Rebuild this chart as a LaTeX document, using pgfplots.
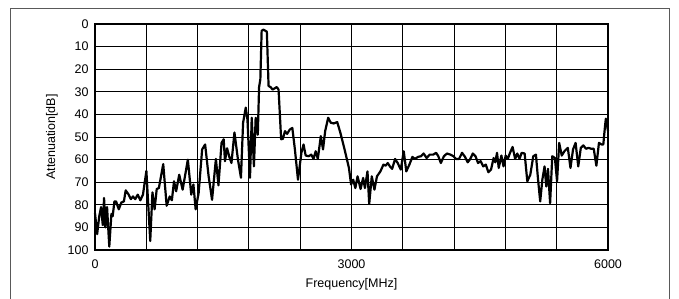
\documentclass[border=0pt]{standalone}
\usepackage{pgfplots}
\pgfplotsset{compat=1.18}
\usepackage{fontspec}
\setmainfont{Liberation Sans}
\begin{document}
\begin{tikzpicture}[x=1pt,y=1pt]
\useasboundingbox (0,0) rectangle (679,298);
\draw[black!65, line width=1pt] (10.5,-1) -- (10.5,289) -- (669,289) -- (669,-1);
\begin{axis}[
  at={(95pt,48pt)}, anchor=south west,
  scale only axis, width=513pt, height=226pt,
  xmin=0, xmax=6000, ymin=0, ymax=100,
  y dir=reverse,
  xtick={0,600,...,6000},
  xticklabels={0,,,,,3000,,,,,6000},
  ytick={0,10,...,100},
  major tick length=0pt,
  grid=major,
  grid style={black, line width=1pt},
  axis line style={black, line width=1.6pt},
  tick label style={font=\fontsize{12.5}{14}\selectfont, /pgf/number format/assume math mode=true},
  scaled x ticks=false,
  xticklabel style={yshift=-6pt},
  yticklabel style={xshift=-3pt},
  label style={font=\fontsize{12.5}{14}\selectfont},
  xlabel={Frequency[MHz]},
  ylabel={Attenuation[dB]},
  xlabel style={at={(axis description cs:0.5,-0.1504)}, anchor=center},
  ylabel style={at={(axis description cs:-0.0838,0.5)}, anchor=center},
  clip=false,
]
\addplot[black, line width=2.2pt, line join=round] coordinates {
(0,83.7) (25,93) (50,85) (71,81) (91,89) (106,77) (121,90) (141,81) (167,98.5)
(192,84) (207,85) (227,78.5) (247,78.5) (278,82) (308,79) (338,78.5) (359,73.6)
(394,75.5) (419,77.5) (444,76.3) (470,77.5) (500,75.5) (530,78) (561,75.5)
(601,65) (646,96) (672,74.5) (697,82) (722,73) (747,72.6) (798,62) (838,80.4)
(874,76.3) (899,78) (924,69.6) (949,74) (985,66.7) (1025,73.3) (1086,60)
(1126,75.5) (1151,71) (1177,82) (1212,74.8) (1253,55.5) (1288,53.3) (1329,67.4)
(1369,77.8) (1414,59.7) (1444,71.4) (1480,52.6) (1505,51) (1520,60.7) (1545,55)
(1571,58.8) (1596,61.5) (1631,48) (1672,60) (1707,68) (1732,43.7) (1763,37)
(1783,42.2) (1813,68) (1833,41.5) (1859,63) (1879,41.5) (1904,49) (1919,28)
(1934,24.4) (1949,3) (1970,2.5) (2010,3.4) (2030,27.4) (2056,28) (2076,29)
(2096,28.6) (2126,27.9) (2147,29) (2177,51) (2197,50.8) (2222,47.4) (2247,48.6)
(2278,46.7) (2308,46) (2338,55.5) (2374,68.9) (2414,57) (2439,53.3) (2464,58.2)
(2500,58.5) (2530,57.8) (2556,59.7) (2581,56.3) (2606,59.7) (2641,49.6)
(2667,55.5) (2692,47.4) (2727,41.5) (2758,43.7) (2793,44) (2833,43.4) (2869,48)
(2919,55.5) (2970,63.7) (2995,71) (3020,68.9) (3045,72.6) (3071,67.4) (3106,73)
(3136,68.1) (3157,72.6) (3187,65.2) (3207,79.6) (3237,67.4) (3268,73.3)
(3298,67.4) (3338,65.2) (3374,62.2) (3399,62.7) (3424,61.5) (3449,63) (3475,64.1)
(3510,59.7) (3540,61.5) (3576,64.4) (3611,56.3) (3641,65.2) (3677,62.2)
(3712,58.8) (3742,59.7) (3778,58.8) (3813,58.5) (3843,57.3) (3879,59.3)
(3914,57.8) (3955,57.8) (3990,57) (4015,58.5) (4045,61.5) (4081,58.5) (4116,57.3)
(4157,57.8) (4192,58.5) (4222,59.7) (4258,59.7) (4293,57) (4328,58.8) (4359,61.2)
(4389,59.7) (4419,57.3) (4450,58.5) (4480,61.5) (4510,60.7) (4541,63) (4571,62.2)
(4601,65.6) (4632,64.4) (4662,59.3) (4682,61.2) (4702,57) (4722,63.7) (4753,58.2)
(4778,63) (4803,58.2) (4828,59.7) (4854,57) (4884,54.4) (4914,59.7) (4939,57.3)
(4965,59.7) (4990,57) (5025,57.3) (5056,69.6) (5091,66.7) (5126,58.5) (5157,57.8)
(5182,68.9) (5207,78.5) (5232,68.9) (5258,63) (5278,71.9) (5298,64.1) (5323,79.3)
(5348,58.5) (5379,59.3) (5404,69.6) (5429,52.6) (5459,58.2) (5490,56.3)
(5530,54.8) (5561,63.7) (5591,55.5) (5621,52.6) (5652,63) (5682,54.8) (5712,53.7)
(5742,55.2) (5773,54.8) (5803,55.2) (5833,55.2) (5864,62.7) (5894,52.6)
(5924,53.3) (5945,53.3) (5965,45.2) (5975,41.9) (6000,47.4)
};
\end{axis}
\end{tikzpicture}
\end{document}
